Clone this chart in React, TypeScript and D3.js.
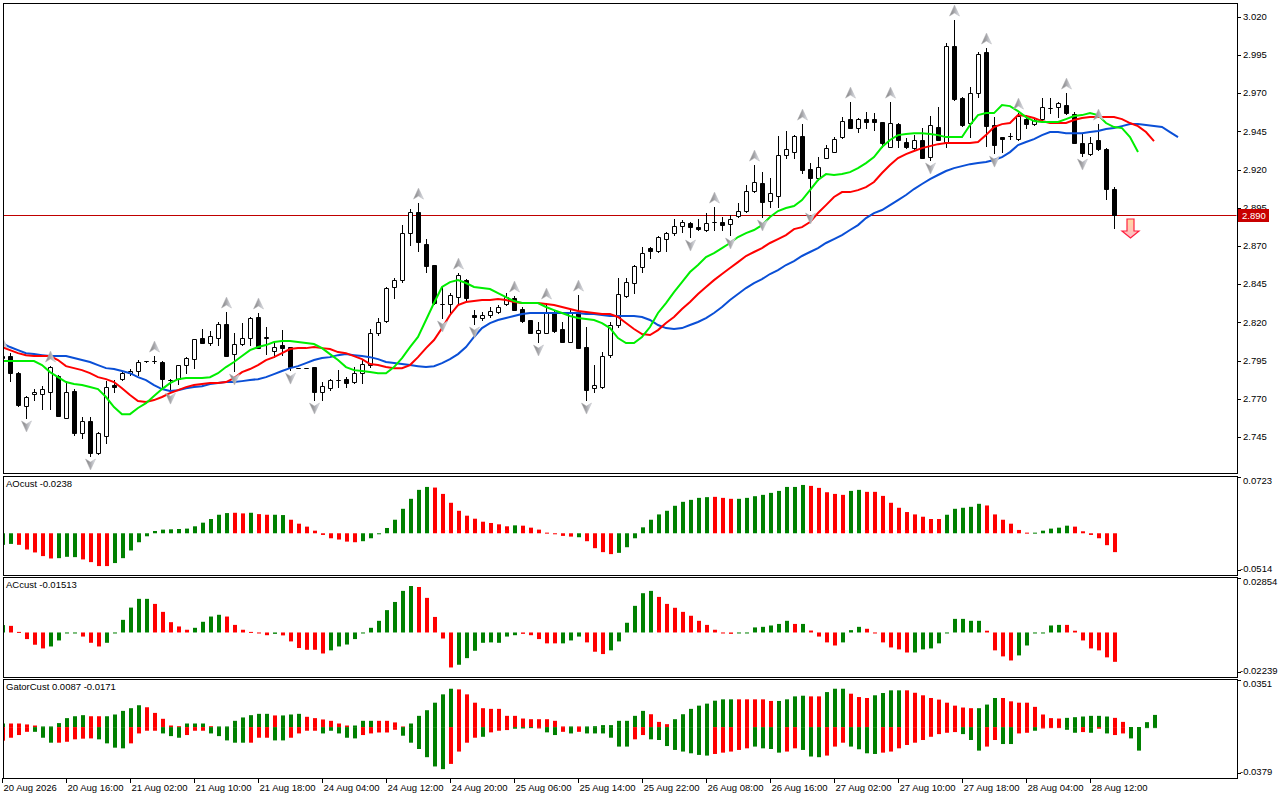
import React, { useEffect, useRef } from "react";
import * as d3 from "d3";

// H1 candles
const opens = [
  2.7966, 2.7979, 2.7867, 2.7652, 2.773, 2.773, 2.7743, 2.7848, 2.7574, 2.775,
  2.7475, 2.7554, 2.7344, 2.7456, 2.7789, 2.7828, 2.7867, 2.7881, 2.7946, 2.7946,
  2.794, 2.7822, 2.7828, 2.792, 2.7959, 2.8097, 2.8064, 2.8097, 2.8189, 2.7992,
  2.8058, 2.8097, 2.8234, 2.8097, 2.8012, 2.8051, 2.8038, 2.79, 2.79, 2.7907,
  2.7743, 2.777, 2.7822, 2.7828, 2.7809, 2.7867, 2.792, 2.813, 2.8208, 2.8431,
  2.8476, 2.8784, 2.8921, 2.8712, 2.8575, 2.832, 2.832, 2.8365, 2.8476, 2.8248,
  2.8228, 2.8248, 2.8267, 2.832, 2.8359, 2.8287, 2.8215, 2.813, 2.813, 2.8267,
  2.8156, 2.8071, 2.8267, 2.8038, 2.777, 2.7776, 2.7986, 2.8182, 2.8372, 2.8457,
  2.8561, 2.8686, 2.8666, 2.8745, 2.8784, 2.883, 2.8849, 2.8823, 2.8804, 2.8856,
  2.8856, 2.8843, 2.8895, 2.8928, 2.9059, 2.9111, 2.8993, 2.9026, 2.9294, 2.9314,
  2.9419, 2.9203, 2.9144, 2.9275, 2.9314, 2.9412, 2.953, 2.9471, 2.953, 2.953,
  2.9511, 2.9347, 2.9497, 2.938, 2.934, 2.9393, 2.9281, 2.9478, 2.938, 3.0008,
  2.9668, 2.9504, 2.97, 2.9969, 2.9491, 2.9412, 2.9419, 2.9399, 2.953, 2.9497,
  2.953, 2.9602, 2.9609, 2.9622, 2.9563, 2.9373, 2.9301, 2.9393, 2.9334, 2.9072,
];
const highs = [
  2.8005, 2.7998, 2.7874, 2.7717, 2.7763, 2.7783, 2.7914, 2.7855, 2.7815, 2.7763,
  2.758, 2.758, 2.7482, 2.7815, 2.7822, 2.7874, 2.7894, 2.7953, 2.795, 2.7979,
  2.7946, 2.7828, 2.792, 2.7972, 2.809, 2.8156, 2.8143, 2.8202, 2.8267, 2.813,
  2.8195, 2.8234, 2.8261, 2.8169, 2.8071, 2.8149, 2.8038, 2.79, 2.79, 2.7907,
  2.7809, 2.7828, 2.7887, 2.7842, 2.7907, 2.7953, 2.8156, 2.8228, 2.8431, 2.8489,
  2.8836, 2.8941, 2.898, 2.8745, 2.8575, 2.8431, 2.8391, 2.8522, 2.8483, 2.828,
  2.8267, 2.83, 2.8313, 2.8391, 2.8372, 2.83, 2.8215, 2.8202, 2.8326, 2.828,
  2.8202, 2.828, 2.8378, 2.8169, 2.792, 2.8005, 2.8202, 2.8489, 2.8489, 2.8575,
  2.8693, 2.8693, 2.8764, 2.8791, 2.8876, 2.8869, 2.8856, 2.8876, 2.8915, 2.8954,
  2.8889, 2.8902, 2.898, 2.9098, 2.9229, 2.9183, 2.9144, 2.9419, 2.9452, 2.9425,
  2.9497, 2.9242, 2.9281, 2.936, 2.9412, 2.9543, 2.9641, 2.9537, 2.9576, 2.9569,
  2.9511, 2.9641, 2.9504, 2.9406, 2.9425, 2.9471, 2.955, 2.9609, 3.0028, 3.0178,
  2.9674, 2.974, 2.9969, 2.9995, 2.9543, 2.9412, 2.9438, 2.9569, 2.9556, 2.9537,
  2.9668, 2.9668, 2.9641, 2.97, 2.9576, 2.9438, 2.9412, 2.9497, 2.934, 2.9085,
];
const lows = [
  2.794, 2.7815, 2.7652, 2.7574, 2.7691, 2.7632, 2.7632, 2.7587, 2.7574, 2.7462,
  2.7442, 2.7325, 2.7338, 2.7409, 2.7743, 2.7822, 2.7855, 2.7855, 2.7943, 2.7933,
  2.777, 2.7756, 2.7796, 2.7867, 2.79, 2.8064, 2.8051, 2.8051, 2.7979, 2.7881,
  2.8051, 2.8051, 2.8031, 2.7992, 2.7972, 2.7986, 2.7887, 2.79, 2.79, 2.7691,
  2.7691, 2.7756, 2.7776, 2.7776, 2.7802, 2.7802, 2.7907, 2.8117, 2.8202, 2.8359,
  2.8463, 2.8706, 2.8666, 2.8529, 2.832, 2.8228, 2.8261, 2.8326, 2.8346, 2.8189,
  2.8215, 2.8234, 2.8261, 2.8313, 2.828, 2.8202, 2.813, 2.8071, 2.813, 2.8136,
  2.8071, 2.8071, 2.8031, 2.7691, 2.7743, 2.777, 2.7972, 2.8169, 2.8365, 2.8391,
  2.8529, 2.862, 2.866, 2.8666, 2.8771, 2.8791, 2.8758, 2.8804, 2.8797, 2.8804,
  2.8804, 2.8771, 2.8889, 2.8921, 2.9052, 2.8889, 2.8954, 2.8954, 2.9275, 2.9275,
  2.9177, 2.8935, 2.9131, 2.9275, 2.9314, 2.9406, 2.9471, 2.9445, 2.9471, 2.9458,
  2.9347, 2.9347, 2.9347, 2.934, 2.9327, 2.9275, 2.9262, 2.9393, 2.9347, 2.9655,
  2.9484, 2.9412, 2.9674, 2.9354, 2.9307, 2.9314, 2.9399, 2.9393, 2.9471, 2.9491,
  2.9524, 2.9569, 2.9543, 2.9563, 2.9373, 2.9288, 2.9294, 2.9327, 2.9006, 2.8817,
];
const closes = [
  2.7979, 2.7868, 2.7658, 2.771, 2.7743, 2.7763, 2.7907, 2.7587, 2.7743, 2.7475,
  2.7554, 2.7344, 2.7475, 2.7776, 2.7776, 2.7867, 2.7881, 2.794, 2.7946, 2.7946,
  2.7828, 2.7822, 2.792, 2.7966, 2.809, 2.8064, 2.811, 2.8189, 2.7979, 2.8058,
  2.8097, 2.8228, 2.8031, 2.8104, 2.8038, 2.8031, 2.7907, 2.79, 2.79, 2.7743,
  2.7783, 2.7822, 2.7822, 2.7802, 2.7867, 2.7927, 2.813, 2.8202, 2.8424, 2.8476,
  2.8784, 2.8921, 2.8725, 2.8568, 2.8326, 2.832, 2.8378, 2.8509, 2.8359, 2.8234,
  2.8248, 2.8274, 2.83, 2.8365, 2.828, 2.8208, 2.813, 2.8149, 2.8267, 2.8143,
  2.8071, 2.8267, 2.8031, 2.7756, 2.7789, 2.7979, 2.8182, 2.8385, 2.8463, 2.8568,
  2.8653, 2.8666, 2.8758, 2.8784, 2.883, 2.8856, 2.8823, 2.881, 2.8849, 2.8856,
  2.8836, 2.8876, 2.8928, 2.9059, 2.9118, 2.8987, 2.9046, 2.9294, 2.9334, 2.9419,
  2.9196, 2.9144, 2.9216, 2.934, 2.9399, 2.9517, 2.9471, 2.953, 2.9511, 2.9511,
  2.9373, 2.9504, 2.9393, 2.9347, 2.9393, 2.9275, 2.9491, 2.9393, 3.0008, 2.9661,
  2.9491, 2.97, 2.9955, 2.9484, 2.936, 2.9399, 2.9419, 2.955, 2.9497, 2.9524,
  2.9609, 2.9602, 2.9635, 2.9569, 2.9373, 2.9307, 2.9373, 2.9334, 2.9072, 2.89,
];

// Alligator lines (jaw runs 8 bars ahead, teeth 5, lips 3)
const jaw = [
  2.8064, 2.8038, 2.8018, 2.7998, 2.7992, 2.7985, 2.7979, 2.7979, 2.7979, 2.7966,
  2.7953, 2.794, 2.792, 2.79, 2.7894, 2.7881, 2.7867, 2.7841, 2.7822, 2.7789,
  2.7763, 2.775, 2.7756, 2.7769, 2.7776, 2.7782, 2.7796, 2.7802, 2.7809, 2.7809,
  2.7815, 2.7822, 2.7828, 2.7841, 2.7861, 2.7881, 2.79, 2.7913, 2.7933, 2.7953,
  2.7966, 2.7972, 2.7985, 2.7992, 2.7985, 2.7979, 2.7972, 2.7959, 2.794, 2.7933,
  2.7927, 2.792, 2.7913, 2.7907, 2.7913, 2.7933, 2.7959, 2.7992, 2.8038, 2.8104,
  2.8162, 2.8195, 2.8215, 2.8228, 2.8241, 2.8254, 2.8261, 2.8261, 2.8261, 2.8261,
  2.8261, 2.8261, 2.8261, 2.8254, 2.8254, 2.8248, 2.8241, 2.8241, 2.8241, 2.8241,
  2.8235, 2.8215, 2.8182, 2.8162, 2.8156, 2.8162, 2.8182, 2.8202, 2.8228, 2.8261,
  2.83, 2.8346, 2.8385, 2.8424, 2.8457, 2.8483, 2.8516, 2.8542, 2.8575, 2.8601,
  2.8634, 2.866, 2.8686, 2.8719, 2.8745, 2.8771, 2.8804, 2.8836, 2.8882, 2.8915,
  2.8935, 2.8967, 2.9, 2.9033, 2.9072, 2.9105, 2.9137, 2.9164, 2.919, 2.9209,
  2.9222, 2.9235, 2.9242, 2.9249, 2.9262, 2.9281, 2.9314, 2.936, 2.938, 2.9399,
  2.9425, 2.9445, 2.9445, 2.9438, 2.9438, 2.9438, 2.9445, 2.9452, 2.9465, 2.9471,
  2.9484, 2.9497, 2.9497, 2.9491, 2.9484, 2.9478, 2.9445, 2.9412,
];
const teeth = [
  2.8038, 2.8018, 2.7998, 2.7985, 2.7979, 2.7979, 2.7979, 2.7953, 2.7913, 2.79,
  2.7887, 2.7867, 2.7841, 2.7828, 2.7809, 2.7769, 2.7724, 2.7685, 2.7678, 2.7691,
  2.7711, 2.7737, 2.7756, 2.7776, 2.7789, 2.7796, 2.7802, 2.7802, 2.7809, 2.7835,
  2.7874, 2.7894, 2.792, 2.7953, 2.7972, 2.7998, 2.8025, 2.8031, 2.8031, 2.8038,
  2.8031, 2.8025, 2.8005, 2.7998, 2.7979, 2.7959, 2.7927, 2.792, 2.7907, 2.79,
  2.79, 2.792, 2.7972, 2.8031, 2.8084, 2.8162, 2.8248, 2.8313, 2.8333, 2.8339,
  2.8346, 2.8346, 2.8352, 2.8346, 2.8333, 2.8326, 2.8326, 2.8326, 2.832, 2.8313,
  2.83, 2.8287, 2.8274, 2.8267, 2.8261, 2.8254, 2.8254, 2.8235, 2.8195, 2.8156,
  2.8123, 2.8117, 2.8149, 2.8195, 2.8235, 2.8287, 2.8333, 2.8385, 2.8431, 2.8476,
  2.8516, 2.8555, 2.8594, 2.8634, 2.866, 2.8686, 2.8719, 2.8745, 2.8771, 2.881,
  2.8823, 2.8856, 2.8915, 2.8967, 2.902, 2.9052, 2.9052, 2.9065, 2.9085, 2.9118,
  2.9177, 2.9229, 2.9275, 2.9301, 2.9321, 2.934, 2.9353, 2.9366, 2.9373, 2.9373,
  2.9373, 2.9373, 2.938, 2.9425, 2.9478, 2.9497, 2.9504, 2.9556, 2.955, 2.9537,
  2.9517, 2.9504, 2.9504, 2.9504, 2.9524, 2.9537, 2.9543, 2.9543, 2.9543, 2.9543,
  2.953, 2.9504, 2.9484, 2.9445, 2.9386,
];
const lips = [
  2.7946, 2.7946, 2.7946, 2.7946, 2.7946, 2.792, 2.7874, 2.7841, 2.7809, 2.7796,
  2.7789, 2.7776, 2.7763, 2.7711, 2.7645, 2.7599, 2.7599, 2.7639, 2.7671, 2.7717,
  2.7763, 2.7802, 2.7828, 2.7835, 2.7835, 2.7835, 2.7841, 2.7867, 2.7907, 2.794,
  2.7979, 2.8018, 2.8038, 2.8051, 2.8071, 2.8077, 2.8077, 2.8071, 2.8064, 2.8058,
  2.8031, 2.7992, 2.7953, 2.7907, 2.7887, 2.7881, 2.7874, 2.7867, 2.7867, 2.7907,
  2.7966, 2.8038, 2.8104, 2.8215, 2.8326, 2.8431, 2.8463, 2.8476, 2.8457, 2.8431,
  2.8424, 2.8418, 2.8391, 2.8365, 2.8339, 2.8326, 2.8326, 2.8326, 2.83, 2.828,
  2.8261, 2.8241, 2.8228, 2.8221, 2.8215, 2.8195, 2.8162, 2.8097, 2.8064, 2.8064,
  2.8104, 2.8169, 2.8261, 2.8326, 2.8398, 2.8463, 2.8529, 2.8575, 2.8627, 2.8653,
  2.8686, 2.8719, 2.8758, 2.8784, 2.8804, 2.8836, 2.8889, 2.8928, 2.8948, 2.8961,
  2.9, 2.9065, 2.9131, 2.917, 2.9164, 2.917, 2.9183, 2.9209, 2.9242, 2.9281,
  2.9347, 2.9393, 2.9425, 2.9432, 2.9438, 2.9438, 2.9432, 2.9425, 2.9412, 2.9412,
  2.9412, 2.9491, 2.9556, 2.9569, 2.9569, 2.9622, 2.9615, 2.9582, 2.9543, 2.9517,
  2.9511, 2.9511, 2.9511, 2.953, 2.955, 2.9556, 2.9569, 2.9556, 2.9504, 2.9478,
  2.9471, 2.9412, 2.9314,
];

const fractalUp = [0, 6, 19, 28, 32, 52, 57, 64, 68, 72, 89, 94, 100, 106, 111, 119, 123, 127, 133, 137];
const fractalDown = [3, 11, 21, 29, 36, 39, 55, 59, 67, 73, 86, 91, 95, 101, 116, 124, 135];

const sellSignal = { index: 141, price: 2.8876 };
const lastPrice = 2.89;

// AO
const aoValues = [
  -0.0146, -0.0134, -0.0146, -0.0205, -0.0242, -0.0288, -0.0318, -0.0314, -0.0297, -0.0301,
  -0.033, -0.0364, -0.0414, -0.0414, -0.0376, -0.0314, -0.0217, -0.0113, -0.0038, 0.0029,
  0.0046, 0.005, 0.0054, 0.0059, 0.0088, 0.0134, 0.018, 0.0234, 0.0255, 0.0259,
  0.0251, 0.0259, 0.0242, 0.0234, 0.0234, 0.023, 0.0171, 0.0121, 0.0084, 0.0033,
  -0.0021, -0.0063, -0.0079, -0.0105, -0.0113, -0.01, -0.0063, -0.0008, 0.0067, 0.0171,
  0.0309, 0.0435, 0.0548, 0.0585, 0.0577, 0.0497, 0.0385, 0.0284, 0.0222, 0.0184,
  0.0146, 0.013, 0.0113, 0.0088, 0.01, 0.0096, 0.0071, 0.0046, 0.0008, -0.0008,
  -0.0033, -0.0042, -0.005, -0.01, -0.0188, -0.0238, -0.0263, -0.0247, -0.0176, -0.0063,
  0.0075, 0.0171, 0.0238, 0.0284, 0.0347, 0.0397, 0.0422, 0.0447, 0.0456, 0.046,
  0.0447, 0.0435, 0.0435, 0.0447, 0.0468, 0.0485, 0.051, 0.0535, 0.0585, 0.0585,
  0.061, 0.0598, 0.0573, 0.0518, 0.0497, 0.0485, 0.0535, 0.0548, 0.0523, 0.0523,
  0.0472, 0.0385, 0.0322, 0.0268, 0.0238, 0.0209, 0.018, 0.018, 0.0234, 0.0309,
  0.0322, 0.0334, 0.0372, 0.0351, 0.0238, 0.0171, 0.0121, 0.0042, 0.0008, 0.0008,
  0.0033, 0.0059, 0.0071, 0.0096, 0.0084, 0.0025, -0.0021, -0.0063, -0.015, -0.0238,
];
const aoColors =
  "ggrrrrrggg" + "rrrrgggggg" + "gggggggggr" + "rgrrggrrrr" + "rrrrrggggg" +
  "ggggrrrrrr" + "rrrrgrrrrr" + "rrgrrrrggg" + "gggggggggr" + "rrgggggggg" +
  "grrrrrggrr" + "rrrrrrrrgg" + "gggrrrrrrg" + "ggggrrrrrr";

// AC
const acValues = [
  0.0038, 0.0034, 0.0003, -0.0034, -0.0063, -0.0082, -0.0072, -0.0041, -0.0003, -0.0003,
  -0.0021, -0.0053, -0.0072, -0.0053, -0.0003, 0.0065, 0.0128, 0.0173, 0.0173, 0.0147,
  0.0106, 0.0053, 0.0031, 0.0014, 0.0024, 0.0055, 0.0082, 0.0091, 0.0082, 0.0039,
  0.0014, 0.0003, -0.0003, -0.0014, -0.0007, -0.0015, -0.0046, -0.008, -0.0089, -0.0089,
  -0.0108, -0.0092, -0.0072, -0.0062, -0.0034, -0.0003, 0.0024, 0.006, 0.0115, 0.0157,
  0.0214, 0.0239, 0.0234, 0.0178, 0.008, -0.0031, -0.018, -0.0166, -0.0132, -0.0094,
  -0.0053, -0.0051, -0.0053, -0.0021, -0.0014, -0.0007, -0.0014, -0.0034, -0.0056, -0.0056,
  -0.0056, -0.0041, -0.0021, -0.0051, -0.0099, -0.0111, -0.0092, -0.0046, 0.005, 0.0137,
  0.0202, 0.0214, 0.0183, 0.0147, 0.0127, 0.0106, 0.0086, 0.006, 0.0039, 0.0014,
  -0.0003, -0.0007, -0.0003, -0.0003, 0.0026, 0.0029, 0.0036, 0.0044, 0.006, 0.0044,
  0.0044, 0.001, -0.0021, -0.0051, -0.0067, -0.0051, 0.0012, 0.0029, 0.0019, -0.0003,
  -0.0051, -0.0077, -0.0087, -0.0103, -0.0103, -0.0087, -0.0082, -0.0056, -0.0003, 0.007,
  0.007, 0.006, 0.006, 0.0009, -0.0092, -0.0123, -0.0144, -0.0118, -0.0067, -0.0003,
  -0.0003, 0.0036, 0.0039, 0.0039, 0.0009, -0.0041, -0.0082, -0.0092, -0.0128, -0.0151,
];
const acColors =
  "grrrrrgggg" + "rrrggggggr" + "rrrrggggrr" + "rrrrgrrrrr" + "rggggggggg" +
  "ggrrrrrggg" + "gggggrrrrr" + "gggrrrgggg" + "ggrrrrrrrr" + "rrgggggggr" +
  "grrrrgggrr" + "rrrrgggggg" + "gggrrrrggg" + "gggrrrrrrr";

// Gator (upper and lower histograms)
const gatorUp = [
  0.0027, 0.0027, 0.0027, 0.002, 0.0012, 0.0005, 0.0005, 0.003, 0.0067, 0.0081,
  0.0089, 0.0081, 0.0081, 0.0081, 0.0094, 0.0121, 0.0141, 0.0163, 0.0148, 0.0106,
  0.0062, 0.0012, 0.0007, 0.0027, 0.0027, 0.0027, 0.0007, 0.0005, 0.0005, 0.0047,
  0.0072, 0.0089, 0.0099, 0.0099, 0.0087, 0.0087, 0.0094, 0.0099, 0.0077, 0.0067,
  0.0057, 0.0047, 0.0027, 0.0012, 0.0012, 0.0047, 0.0047, 0.0047, 0.0047, 0.0035,
  0.0005, 0.0027, 0.0084, 0.0126, 0.0182, 0.0244, 0.0286, 0.0281, 0.0244, 0.0182,
  0.0141, 0.0136, 0.0136, 0.0084, 0.0084, 0.0064, 0.0059, 0.0059, 0.0059, 0.0047,
  0.0005, 0.0005, 0.0005, 0.0005, 0.0007, 0.0015, 0.0015, 0.0047, 0.0047, 0.0084,
  0.0121, 0.0096, 0.0039, 0.0022, 0.0059, 0.0096, 0.0136, 0.016, 0.0175, 0.0197,
  0.0207, 0.0207, 0.0207, 0.0207, 0.0207, 0.0207, 0.0195, 0.0195, 0.0207, 0.0229,
  0.0234, 0.0229, 0.0229, 0.0261, 0.0286, 0.0286, 0.0249, 0.0224, 0.0217, 0.0237,
  0.0254, 0.0274, 0.0274, 0.0274, 0.0256, 0.0237, 0.0217, 0.0205, 0.0182, 0.016,
  0.0146, 0.0141, 0.0141, 0.0168, 0.0217, 0.0217, 0.0192, 0.0182, 0.0182, 0.0151,
  0.0094, 0.0067, 0.0064, 0.0069, 0.0074, 0.0079, 0.0084, 0.0084, 0.0079, 0.0069,
  0.0039, 0, 0, 0.0037, 0.0091,
];
const gatorUpColors =
  "grrrrggggg" + "grrgggggrr" + "rrrgggrggg" + "ggggrgggrr" + "rrrrgggrrr" +
  "rggggggrrr" + "rrrrrrrrrr" + "rgrggggggg" + "grrrgggggg" + "ggrrrrrggg" +
  "grrgggrrrg" + "gggrrrrrrr" + "rrgggrrrrr" + "rrrggggggr" + "rgggg";
const gatorDown = [
  -0.0101, -0.0079, -0.0059, -0.0035, -0.0035, -0.0079, -0.0116, -0.0116, -0.0109, -0.0091,
  -0.0086, -0.0084, -0.0091, -0.0121, -0.0153, -0.0158, -0.0121, -0.0047, -0.0027, -0.0027,
  -0.0047, -0.0067, -0.0079, -0.0059, -0.0027, -0.0027, -0.0047, -0.0067, -0.0099, -0.0116,
  -0.0116, -0.0116, -0.0079, -0.0079, -0.0099, -0.0099, -0.0079, -0.0047, -0.0027, -0.0027,
  -0.0047, -0.0027, -0.0047, -0.0079, -0.0084, -0.0059, -0.0047, -0.004, -0.004, -0.002,
  -0.0064, -0.0116, -0.0163, -0.0224, -0.0293, -0.0313, -0.0274, -0.0182, -0.0116, -0.0079,
  -0.0072, -0.0039, -0.0027, -0.0022, -0.0012, -0.001, -0.0007, -0.001, -0.0039, -0.0059,
  -0.0035, -0.0047, -0.0035, -0.0047, -0.0047, -0.0047, -0.0079, -0.0145, -0.0145, -0.0091,
  -0.0059, -0.0091, -0.0096, -0.0141, -0.017, -0.0182, -0.0195, -0.0207, -0.0212, -0.02,
  -0.019, -0.0182, -0.017, -0.0158, -0.0145, -0.0158, -0.0163, -0.019, -0.0182, -0.0158,
  -0.017, -0.0219, -0.0224, -0.0212, -0.0145, -0.0116, -0.0145, -0.0165, -0.0195, -0.02,
  -0.019, -0.0182, -0.0158, -0.0133, -0.0116, -0.0096, -0.0072, -0.0052, -0.0042, -0.0037,
  -0.0052, -0.0096, -0.0175, -0.0145, -0.0096, -0.0126, -0.0126, -0.0047, -0.0042, -0.0027,
  -0.001, -0.0007, -0.0007, -0.002, -0.0042, -0.0037, -0.0042, -0.0012, -0.0047, -0.0059,
  -0.0047, -0.0084, -0.0175, 0, 0,
];
const gatorDownColors =
  "rrrrgggrrr" + "rrggggrrrr" + "gggrrrgggg" + "grrrggrrrr" + "gggggrrrrr" +
  "ggggggrrrr" + "grrrgggrgg" + "rgrggggggr" + "rggggggggr" + "rrrrggggrr" +
  "gggrrrgggg" + "rrrrrrrrrr" + "gggrrggrrg" + "rrrggrgrgr" + "rgggg";

const priceTicks = [3.02, 2.995, 2.97, 2.945, 2.92, 2.895, 2.87, 2.845, 2.82, 2.795, 2.77, 2.745];
const xTickLabels = [
  "20 Aug 2026", "20 Aug 16:00", "21 Aug 02:00", "21 Aug 10:00", "21 Aug 18:00", "24 Aug 04:00",
  "24 Aug 12:00", "24 Aug 20:00", "25 Aug 06:00", "25 Aug 14:00", "25 Aug 22:00", "26 Aug 08:00",
  "26 Aug 16:00", "27 Aug 02:00", "27 Aug 10:00", "27 Aug 18:00", "28 Aug 04:00", "28 Aug 12:00",
];
const barsPerLabel = 8;

const aoDomain = [-0.0514, 0.0723];
const acDomain = [-0.02239, 0.02854];
const gatorDomain = [-0.0379, 0.0351];

const FONT = "'Liberation Sans', Arial, sans-serif";
const GREEN = "#008000";
const RED = "#ff0000";

const App: React.FC = () => {
  const svgRef = useRef<SVGSVGElement>(null);

  useEffect(() => {
    document.body.style.margin = "0";
    const svg = d3.select(svgRef.current);
    svg.selectAll("*").remove();

    const left = 3;
    const right = 1237;
    const panels = {
      main: { top: 3, bottom: 473 },
      ao: { top: 476, bottom: 575 },
      ac: { top: 577, bottom: 677 },
      gator: { top: 679, bottom: 778 },
    };

    // one bar every 8px
    const x = d3.scaleLinear().domain([0, 150]).range([2, 1202]);
    const yMain = d3.scaleLinear().domain([2.745, 3.02]).range([436.9, 16.7]);
    const yAo = d3.scaleLinear().domain(aoDomain).range([574, 476]);
    const yAc = d3.scaleLinear().domain(acDomain).range([676, 577]);
    const yGator = d3.scaleLinear().domain(gatorDomain).range([778, 680]);

    const defs = svg.append("defs");
    Object.entries(panels).forEach(([k, p]) => {
      defs
        .append("clipPath")
        .attr("id", `clip-${k}`)
        .append("rect")
        .attr("x", left + 0.5)
        .attr("y", p.top + 0.5)
        .attr("width", right - left - 1)
        .attr("height", p.bottom - p.top - 1);
    });
    const fg = defs.append("linearGradient").attr("id", "fractalGrad").attr("x1", 0).attr("x2", 1);
    fg.append("stop").attr("offset", "0%").attr("stop-color", "#7d7d7d");
    fg.append("stop").attr("offset", "50%").attr("stop-color", "#a9a9ad");
    fg.append("stop").attr("offset", "100%").attr("stop-color", "#e4e8f0");
    const sg = defs.append("linearGradient").attr("id", "sellGrad").attr("x1", 0).attr("x2", 0).attr("y1", 0).attr("y2", 1);
    sg.append("stop").attr("offset", "0%").attr("stop-color", "#ffd9a0");
    sg.append("stop").attr("offset", "100%").attr("stop-color", "#ffb8c8");

    svg.append("rect").attr("width", 1280).attr("height", 800).attr("fill", "#fff");

    // ---- main window ----
    const main = svg.append("g").attr("clip-path", "url(#clip-main)");

    main
      .append("line")
      .attr("x1", left)
      .attr("x2", right)
      .attr("y1", Math.round(yMain(lastPrice)) + 0.5)
      .attr("y2", Math.round(yMain(lastPrice)) + 0.5)
      .attr("stroke", "#c00000");

    const candles = opens.map((o, i) => ({ i, o, h: highs[i], l: lows[i], c: closes[i] }));

    main
      .selectAll("line.wick")
      .data(candles)
      .enter()
      .append("line")
      .attr("x1", (d) => x(d.i) + 0.5)
      .attr("x2", (d) => x(d.i) + 0.5)
      .attr("y1", (d) => Math.round(yMain(d.h)))
      .attr("y2", (d) => Math.round(yMain(d.l)) + 1)
      .attr("stroke", "#000");

    main
      .selectAll("path.body")
      .data(candles)
      .enter()
      .append("path")
      .attr("d", (d) => {
        const top = Math.round(yMain(Math.max(d.o, d.c))) + 0.5;
        const bot = Math.round(yMain(Math.min(d.o, d.c))) + 0.5;
        const bx = x(d.i) - 1.5;
        return `M${bx},${top}H${bx + 4}V${bot}H${bx}Z`;
      })
      .attr("fill", (d) => (d.c >= d.o ? "#fff" : "#000"))
      .attr("stroke", "#000");

    const lineOf = (vals: number[]) =>
      d3
        .line<number>()
        .x((_, i) => x(i))
        .y((v) => yMain(v))(vals);

    [
      { vals: jaw, color: "#0a4fd6" },
      { vals: teeth, color: "#ff0000" },
      { vals: lips, color: "#00ee00" },
    ].forEach((s) => {
      main
        .append("path")
        .attr("d", lineOf(s.vals))
        .attr("fill", "none")
        .attr("stroke", s.color)
        .attr("stroke-width", 2);
    });

    // fractal arrows
    const upArrow = "M0,-6L5,5L0,2L-5,5Z";
    const downArrow = "M0,6L5,-5L0,-2L-5,-5Z";
    main
      .selectAll("path.fup")
      .data(fractalUp)
      .enter()
      .append("path")
      .attr("d", upArrow)
      .attr("transform", (i) => `translate(${x(i) + 0.5},${yMain(highs[i]) - 9})`)
      .attr("fill", "url(#fractalGrad)")
      .attr("stroke", "#b4b4b8")
      .attr("stroke-width", 0.5);
    main
      .selectAll("path.fdn")
      .data(fractalDown)
      .enter()
      .append("path")
      .attr("d", downArrow)
      .attr("transform", (i) => `translate(${x(i) + 0.5},${yMain(lows[i]) + 8})`)
      .attr("fill", "url(#fractalGrad)")
      .attr("stroke", "#b4b4b8")
      .attr("stroke-width", 0.5);

    // sell signal
    const sx = x(sellSignal.index) + 0.5;
    const sy = yMain(sellSignal.price);
    main
      .append("path")
      .attr(
        "d",
        `M${sx - 3.5},${sy}H${sx + 3.5}V${sy + 12}H${sx + 8.5}L${sx},${sy + 19}L${sx - 8.5},${sy + 12}H${sx - 3.5}Z`
      )
      .attr("fill", "url(#sellGrad)")
      .attr("stroke", "#ff2040")
      .attr("stroke-width", 1.2);

    // ---- indicator windows ----
    const histogram = (
      key: string,
      vals: number[],
      colors: string,
      y: d3.ScaleLinear<number, number>
    ) => {
      const g = svg.append("g").attr("clip-path", `url(#clip-${key})`);
      const zero = y(0);
      g.selectAll("rect")
        .data(vals)
        .enter()
        .append("rect")
        .attr("x", (_, i) => x(i) - 1)
        .attr("width", 4)
        .attr("y", (v) => Math.min(zero, y(v)))
        .attr("height", (v) => Math.max(1, Math.abs(y(v) - zero)))
        .attr("fill", (_, i) => (colors[i] === "g" ? GREEN : RED));
    };
    histogram("ao", aoValues, aoColors, yAo);
    histogram("ac", acValues, acColors, yAc);
    histogram("gator", gatorUp, gatorUpColors, yGator);
    histogram("gator", gatorDown, gatorDownColors, yGator);

    // ---- frames ----
    Object.values(panels).forEach((p) => {
      svg
        .append("rect")
        .attr("x", left + 0.5)
        .attr("y", p.top + 0.5)
        .attr("width", right - left)
        .attr("height", p.bottom - p.top)
        .attr("fill", "none")
        .attr("stroke", "#000");
    });

    const text = (tx: number, ty: number, s: string, fill = "#000") =>
      svg
        .append("text")
        .attr("x", tx)
        .attr("y", ty)
        .attr("dy", "0.35em")
        .attr("font-family", FONT)
        .attr("font-size", 9.5)
        .attr("fill", fill)
        .text(s);
    const tick = (ty: number) =>
      svg
        .append("line")
        .attr("x1", right)
        .attr("x2", right + 4)
        .attr("y1", Math.round(ty) + 0.5)
        .attr("y2", Math.round(ty) + 0.5)
        .attr("stroke", "#000");

    // price axis
    priceTicks.forEach((p) => {
      tick(yMain(p));
      text(right + 6, yMain(p), p.toFixed(3));
    });
    const ly = Math.round(yMain(lastPrice));
    svg
      .append("rect")
      .attr("x", right + 1)
      .attr("y", ly - 6)
      .attr("width", 31)
      .attr("height", 13)
      .attr("fill", "#c80000");
    text(right + 5, ly + 0.5, lastPrice.toFixed(3), "#fff");

    // sub-window scales and titles
    const sub = [
      { p: panels.ao, lo: aoDomain[0].toFixed(4), hi: aoDomain[1].toFixed(4), title: "AOcust -0.0238" },
      { p: panels.ac, lo: acDomain[0].toFixed(5), hi: acDomain[1].toFixed(5), title: "ACcust -0.01513" },
      { p: panels.gator, lo: gatorDomain[0].toFixed(4), hi: gatorDomain[1].toFixed(4), title: "GatorCust 0.0087 -0.0171" },
    ];
    sub.forEach((s) => {
      tick(s.p.top + 1);
      text(right + 6, s.p.top + 5, s.hi);
      tick(s.p.bottom - 5);
      text(right + 3, s.p.bottom - 6, s.lo);
      text(6, s.p.top + 8, s.title);
    });

    // time axis
    const bottom = panels.gator.bottom;
    xTickLabels.forEach((lab, k) => {
      const tx = x(k * barsPerLabel) + 0.5;
      svg
        .append("line")
        .attr("x1", tx)
        .attr("x2", tx)
        .attr("y1", bottom)
        .attr("y2", bottom + 5)
        .attr("stroke", "#000");
      text(tx + 1, bottom + 10, lab);
    });
  }, []);

  return (
    <div style={{ position: "fixed", left: 0, top: 0 }}>
      <svg ref={svgRef} width={1280} height={800} style={{ display: "block" }}></svg>
    </div>
  );
};

export default App;
